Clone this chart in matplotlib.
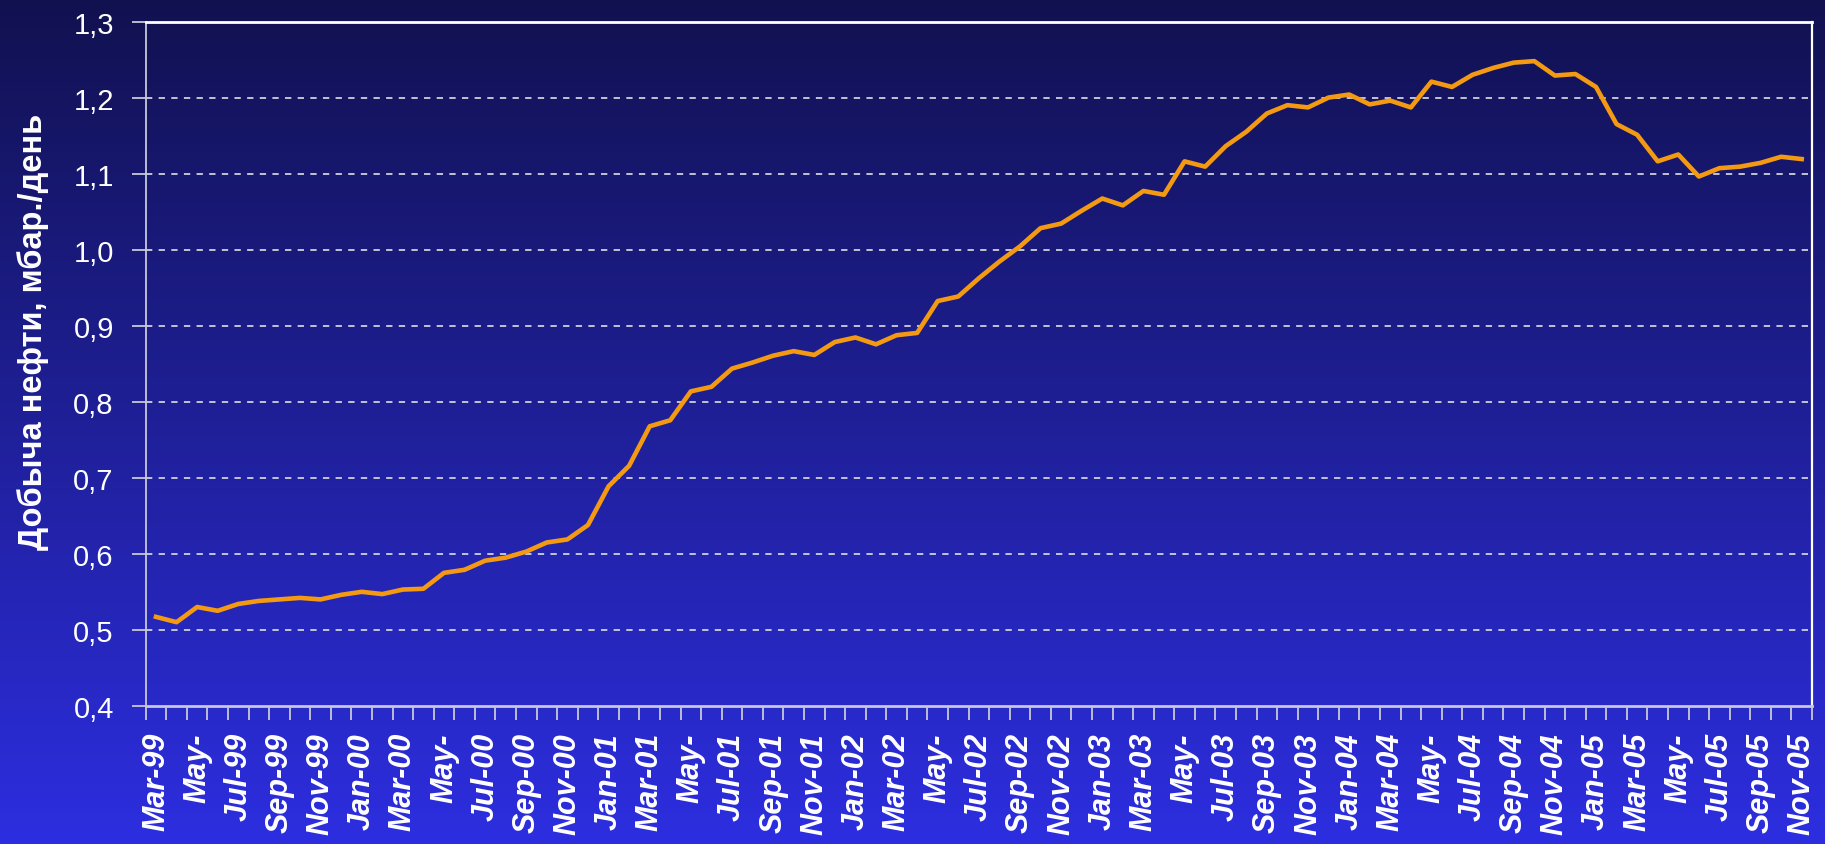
import numpy as np
import matplotlib
matplotlib.use("Agg")
import matplotlib.pyplot as plt
from matplotlib.ticker import FixedLocator, FixedFormatter

# ---- data ----
production = [
    0.517, 0.510, 0.530, 0.525, 0.534, 0.538, 0.540, 0.542, 0.540, 0.546,
    0.550, 0.547, 0.553, 0.554, 0.575, 0.579, 0.591, 0.595, 0.603, 0.615,
    0.619, 0.638, 0.689, 0.716, 0.768, 0.776, 0.814, 0.820, 0.844, 0.852,
    0.861, 0.867, 0.862, 0.879, 0.885, 0.876, 0.888, 0.891, 0.933, 0.939,
    0.963, 0.985, 1.005, 1.029, 1.035, 1.052, 1.068, 1.059, 1.078, 1.073,
    1.117, 1.110, 1.137, 1.156, 1.180, 1.191, 1.188, 1.201, 1.205, 1.192,
    1.197, 1.188, 1.222, 1.215, 1.231, 1.240, 1.247, 1.249, 1.230, 1.232,
    1.215, 1.166, 1.152, 1.117, 1.126, 1.097, 1.108, 1.110, 1.115, 1.123,
    1.120,
]
tick_labels = [
    "Mar-99", "May-", "Jul-99", "Sep-99", "Nov-99",
    "Jan-00", "Mar-00", "May-", "Jul-00", "Sep-00", "Nov-00",
    "Jan-01", "Mar-01", "May-", "Jul-01", "Sep-01", "Nov-01",
    "Jan-02", "Mar-02", "May-", "Jul-02", "Sep-02", "Nov-02",
    "Jan-03", "Mar-03", "May-", "Jul-03", "Sep-03", "Nov-03",
    "Jan-04", "Mar-04", "May-", "Jul-04", "Sep-04", "Nov-04",
    "Jan-05", "Mar-05", "May-", "Jul-05", "Sep-05", "Nov-05",
]
y_ticks = [0.4, 0.5, 0.6, 0.7, 0.8, 0.9, 1.0, 1.1, 1.2, 1.3]
y_label = "Добыча нефти, мбар./день"

# ---- figure ----
W, H, DPI = 1825, 845, 100
fig = plt.figure(figsize=(W / DPI, H / DPI), dpi=DPI)

# gradient background
bg = fig.add_axes([0, 0, 1, 1], zorder=0)
top_c = np.array([17, 17, 80]) / 255.0
bot_c = np.array([45, 46, 224]) / 255.0
t = np.linspace(0, 1, 512)[:, None]
grad = (top_c[None, :] * (1 - t) + bot_c[None, :] * t)[:, None, :]
bg.imshow(grad, aspect="auto", extent=[0, 1, 0, 1], origin="upper")
bg.set_axis_off()

left, right = 145.7 / W, 1812 / W
bottom = (H - 706.7) / H
top = (H - 23.4) / H
ax = fig.add_axes([left, bottom, right - left, top - bottom], zorder=1)
ax.set_facecolor("none")

n = len(production)
x = np.arange(n)
ax.plot(x, production, color="#F39A12", lw=3.3, solid_joinstyle="round", zorder=3)

ax.set_xlim(-0.5, n - 0.5)
ax.set_ylim(y_ticks[0], y_ticks[-1])

# y axis
ax.set_yticks(y_ticks)
ax.set_yticklabels([f"{v:.1f}".replace(".", ",") for v in y_ticks],
                   fontfamily="Liberation Sans", fontsize=21, color="white")
ax.tick_params(axis="y", direction="out", length=10, width=1.3,
               color="#c8c8d8", pad=13)
for v in y_ticks[1:-1]:
    ax.axhline(v, color="#d0d0dc", lw=1.3, ls=(0, (3.5, 3.5)), zorder=2)

# x axis: tick marks at category boundaries, labels every 2 months
ax.xaxis.set_major_locator(FixedLocator(np.arange(-0.5, n, 1.0)))
ax.xaxis.set_major_formatter(FixedFormatter([""] * (n + 1)))
ax.tick_params(axis="x", which="major", direction="out", length=10,
               width=1.3, color="#c8c8d8")
ax.xaxis.set_minor_locator(FixedLocator(np.arange(0, n, 2)))
ax.xaxis.set_minor_formatter(FixedFormatter(tick_labels))
ax.tick_params(axis="x", which="minor", length=0, pad=19)
for lbl in ax.xaxis.get_minorticklabels():
    lbl.set_rotation(90)
    lbl.set_ha("center")
    lbl.set_va("top")
    lbl.set_fontfamily("Liberation Sans")
    lbl.set_fontweight("bold")
    lbl.set_fontstyle("italic")
    lbl.set_fontsize(22)
    lbl.set_color("white")

# spines
ax.spines["top"].set_color("white")
ax.spines["top"].set_linewidth(2.0)
ax.spines["right"].set_color("white")
ax.spines["right"].set_linewidth(1.6)
ax.spines["left"].set_color("#c8c8d8")
ax.spines["left"].set_linewidth(1.3)
ax.spines["bottom"].set_color("#c8c8d8")
ax.spines["bottom"].set_linewidth(2.0)

fig.text(33 / W, 1 - 332 / H, y_label, rotation=90, ha="center", va="center",
         color="white", fontsize=23.5, fontweight="bold",
         fontfamily="Liberation Sans")

fig.savefig("out.png", dpi=DPI)
